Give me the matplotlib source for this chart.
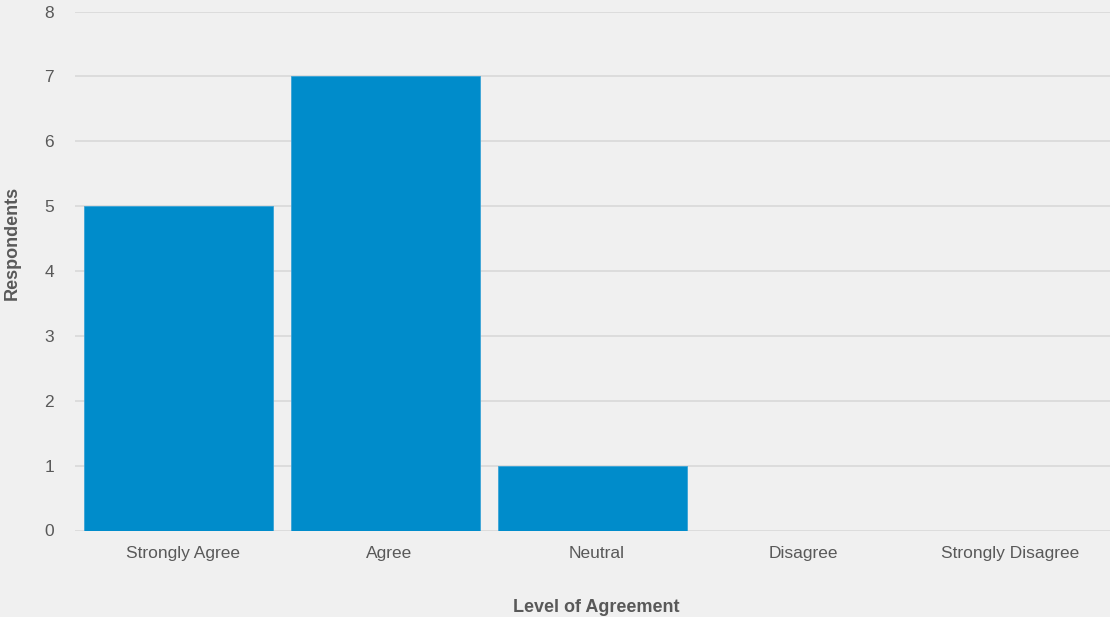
import numpy as np
import matplotlib.pyplot as plt
from matplotlib.transforms import ScaledTranslation

plt.rcParams['font.family'] = ['Liberation Sans', 'DejaVu Sans']

categories = ['Strongly Agree', 'Agree', 'Neutral', 'Disagree', 'Strongly Disagree']
respondents = [5, 7, 1, 0, 0]
yticks = [0, 1, 2, 3, 4, 5, 6, 7, 8]

bg = '#f0f0f0'
txt = '#595959'

fig = plt.figure(figsize=(11.1, 6.17), dpi=100, facecolor=bg)
ax = fig.add_axes([75 / 1110, (617 - 530.5) / 617, 1 - 75 / 1110, (530.5 - 11.5) / 617])
ax.set_facecolor(bg)

x = np.arange(len(categories))
ax.bar(x, respondents, width=0.91, color='#008ccb', edgecolor='#3aa3d6', linewidth=0.6, zorder=3)

ax.set_xlim(-0.5, len(categories) - 0.5)
ax.set_ylim(0, 8)
ax.set_yticks(yticks)
ax.set_xticks(x)
ax.set_xticklabels(categories)
ax.grid(axis='y', color='#d9d9d9', linewidth=1.2, zorder=0)
for s in ax.spines.values():
    s.set_visible(False)
ax.tick_params(axis='both', length=0, labelsize=12.5, colors=txt)
ax.tick_params(axis='y', pad=15)
ax.tick_params(axis='x', pad=11)

# labels sit a few pixels right of the category centres in the original
shift = ScaledTranslation(4 / 100, 0, fig.dpi_scale_trans)
for lbl in ax.get_xticklabels():
    lbl.set_transform(lbl.get_transform() + shift)

fig.text(596 / 1110, 1 - 607 / 617, 'Level of Agreement', fontsize=13, fontweight='bold',
         color=txt, ha='center', va='center')
fig.text(12 / 1110, 1 - 243 / 617, 'Respondents', fontsize=13, fontweight='bold',
         color=txt, ha='center', va='center', rotation=90)

fig.savefig('out.png', dpi=100, facecolor=bg)
